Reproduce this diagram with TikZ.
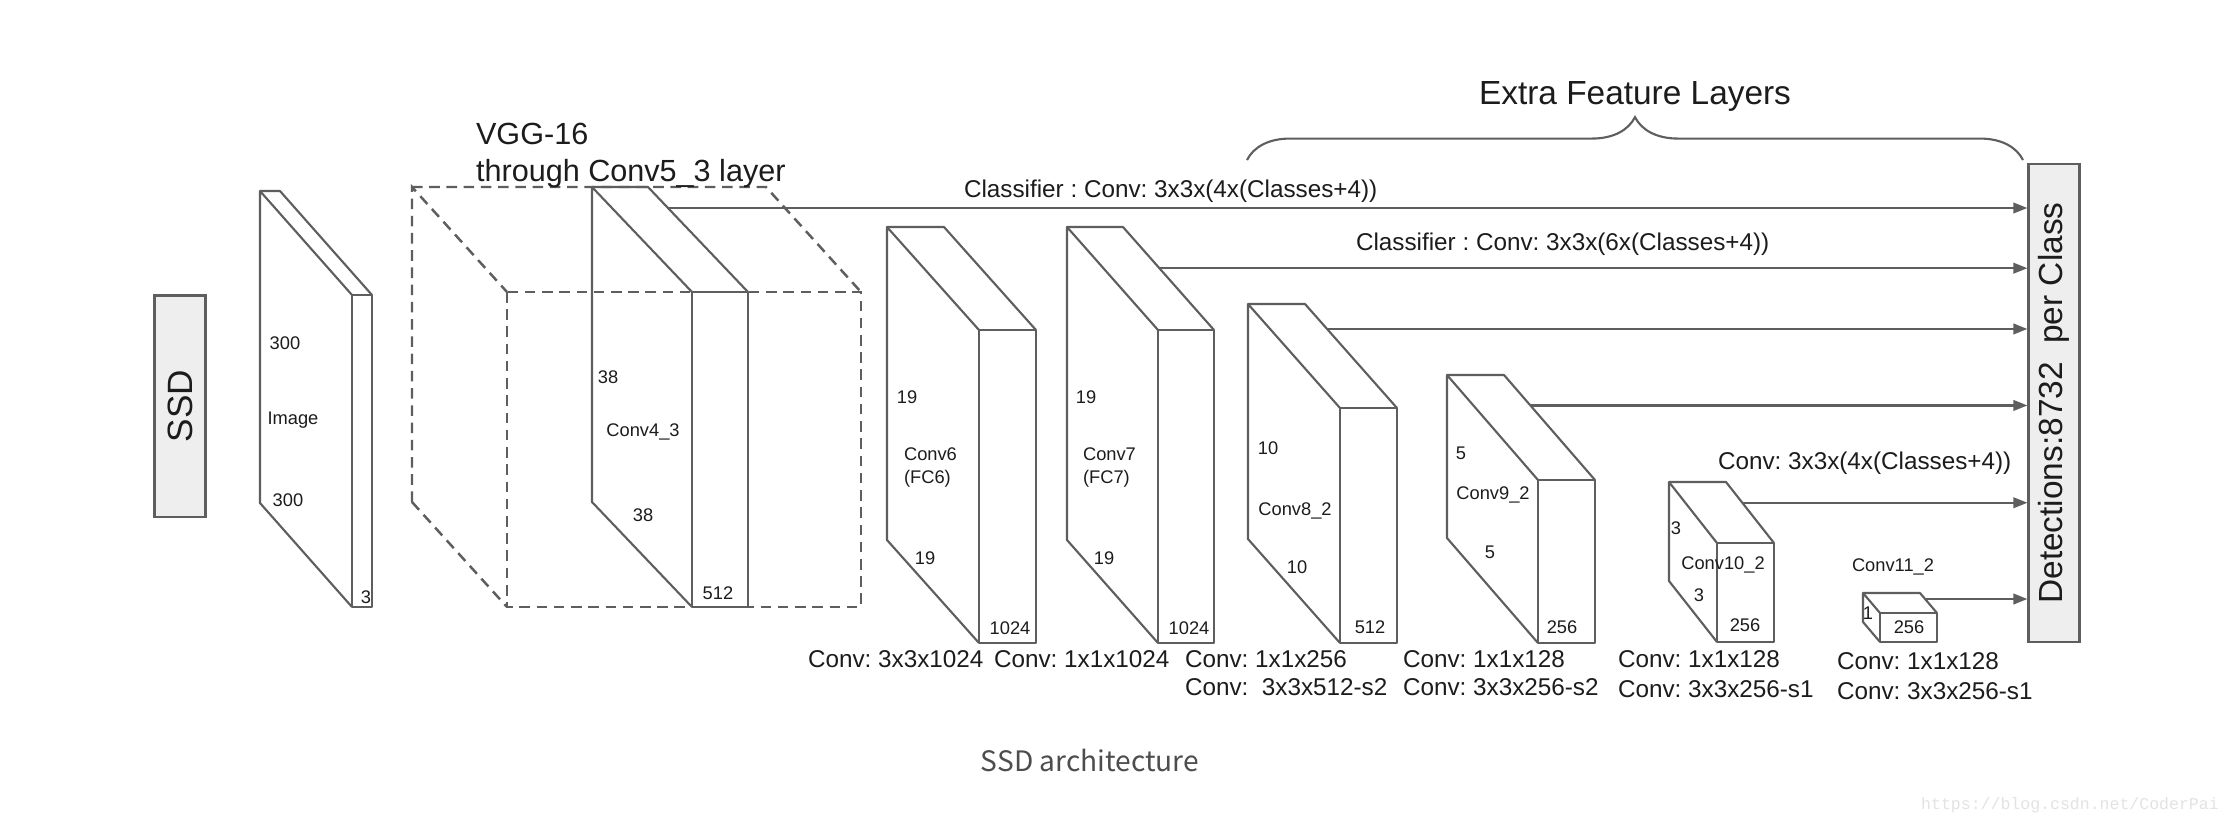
\documentclass[tikz,border=0pt]{standalone}
\usepackage{fontspec}
\setmainfont{Liberation Sans}
\newfontfamily\captionfont{Noto Sans CJK SC}
\newfontfamily\markfont{Liberation Mono}
\usetikzlibrary{arrows.meta}
\usetikzlibrary{calc}
\usetikzlibrary{decorations.pathreplacing}
\definecolor{edge}{HTML}{5E5E5E}
\definecolor{boxfill}{HTML}{EEEEEE}
\definecolor{ink}{HTML}{1C1C1C}
\definecolor{capgray}{HTML}{4D4D4D}
\frenchspacing

% feature map: name, front top-left, width, height, depth x, depth y
\newcommand{\fmap}[6]{%
  \coordinate (#1) at #2;
  \draw [slab] (#1) rectangle ++(#3,#4);
  \draw [slab] (#1) -- ++(-#5,-#6) -- ++(0,#4) -- ++(#5,#6);
  \draw [slab] (#1) ++(-#5,-#6) -- ++(#3,0) coordinate (#1-b) -- ++(#5,#6) coordinate (#1-f);
}

\begin{document}
\begin{tikzpicture}[x=0.01cm,y=-0.01cm,line width=0.6pt,
	slab/.style={draw=edge,line join=round},
	cube/.style={draw=edge,line width=0.7pt,dash pattern=on 3pt off 1.9pt},
	arr/.style={draw=edge,-{Triangle[length=4pt,width=3pt]}},
	sidebox/.style={draw=edge,fill=boxfill,rotate=90,minimum height=0.51cm,inner sep=0pt,text=ink},
	dimlbl/.style={inner sep=0pt,text height=3.75pt,text depth=0pt,text=ink,font=\fontsize{5.2}{6}\selectfont},
	oplbl/.style={inner sep=0pt,text height=4.95pt,text depth=0pt,text=ink,font=\fontsize{6.9}{8}\selectfont},
	titlelbl/.style={inner sep=0pt,text height=6.8pt,text depth=0pt,text=ink,font=\fontsize{9.5}{11}\selectfont}]
	\path [fill=white] (0,0) rectangle (2232,826);

	\node [sidebox,minimum width=2.21cm,font=\fontsize{10}{12}\selectfont] (ssd) at (180,406) {SSD};
	% rotated box: its north anchor is the left side
	\node [sidebox,minimum width=4.78cm,font=\fontsize{9.5}{11}\selectfont] (det) at (2054,403) {Detections:8732\ \ per Class};

	% VGG-16 block
	\draw [cube] (412,187) -- (766,187) -- (861,292);
	\draw [cube] (412,502) -- (412,187) -- (507,292);
	\draw [cube] (412,502) -- (507,607);
	\draw [cube] (507,292) rectangle (861,607);
	\node [titlelbl,anchor=west,font=\fontsize{8.7}{10}\selectfont] (vgg) at (475,133) {VGG-16};
	\node [titlelbl,anchor=west,font=\fontsize{8.7}{10}\selectfont] (vgg2) at (475,170) {through Conv5\_3 layer};

	\fmap{img}{(352,295)}{20}{312}{92}{104}
	\fmap{c43}{(692,292)}{56}{315}{100}{105}
	\fmap{c6}{(979,330)}{57}{313}{92}{103}
	\fmap{c7}{(1158,330)}{56}{313}{91}{103}
	\fmap{c8}{(1340,408)}{57}{235}{92}{104}
	\fmap{c9}{(1538,480)}{57}{163}{91}{105}
	\fmap{c10}{(1717,543)}{57}{99}{48}{61}
	\fmap{c11}{(1880,613)}{57}{29}{17}{20}

	\node [dimlbl] (img-h) at (285,343) {300};
	\node [dimlbl] (img-n) at (293,418) {Image};
	\node [dimlbl] (img-w) at (288,500) {300};
	\node [dimlbl] (img-d) at (366,597) {3};
	\node [dimlbl] (c43-h) at (608,377) {38};
	\node [dimlbl] (c43-n) at (643,430) {Conv4\_3};
	\node [dimlbl] (c43-w) at (643,515) {38};
	\node [dimlbl] (c43-d) at (718,593) {512};
	\node [dimlbl] (c6-h) at (907,397) {19};
	\node [dimlbl,anchor=west] (c6-n) at (903,454) {Conv6};
	\node [dimlbl,anchor=west] (c6-n2) at (903,477) {(FC6)};
	\node [dimlbl] (c6-w) at (925,558) {19};
	\node [dimlbl] (c6-d) at (1010,628) {1024};
	\node [dimlbl] (c7-h) at (1086,397) {19};
	\node [dimlbl,anchor=west] (c7-n) at (1082,454) {Conv7};
	\node [dimlbl,anchor=west] (c7-n2) at (1082,477) {(FC7)};
	\node [dimlbl] (c7-w) at (1104,558) {19};
	\node [dimlbl] (c7-d) at (1189,628) {1024};
	\node [dimlbl] (c8-h) at (1268,448) {10};
	\node [dimlbl] (c8-n) at (1295,509) {Conv8\_2};
	\node [dimlbl] (c8-w) at (1297,567) {10};
	\node [dimlbl] (c8-d) at (1370,627) {512};
	\node [dimlbl] (c9-h) at (1461,453) {5};
	\node [dimlbl] (c9-n) at (1493,493) {Conv9\_2};
	\node [dimlbl] (c9-w) at (1490,552) {5};
	\node [dimlbl] (c9-d) at (1562,627) {256};
	\node [dimlbl] (c10-h) at (1676,528) {3};
	\node [dimlbl] (c10-n) at (1723,563) {Conv10\_2};
	\node [dimlbl] (c10-w) at (1699,595) {3};
	\node [dimlbl] (c10-d) at (1745,625) {256};
	\node [dimlbl] (c11-h) at (1868,613) {1};
	\node [dimlbl] (c11-d) at (1909,627) {256};
	\node [dimlbl] (c11-n) at (1893,565) {Conv11\_2};

	% classifiers into the detection box
	\coordinate (a1) at ($(c43-b)!0.2!(c43-f)$);
	\coordinate (a2) at ($(c7-b)!0.4!(c7-f)$);
	\coordinate (a3) at ($(c8-b)!0.24!(c8-f)$);
	\coordinate (a4) at ($(c9-b)!0.29!(c9-f)$);
	\coordinate (a5) at ($(c10-b)!0.34!(c10-f)$);
	\coordinate (a6) at ($(c11-b)!0.3!(c11-f)$);
	\foreach \a in {a1,a2,a3,a4,a5,a6}
		\draw [arr] (\a) -- (\a -| det.north);
	\node [oplbl,anchor=west] (cls1) at (963,189) {Classifier : Conv: 3x3x(4x(Classes+4))};
	\node [oplbl,anchor=west] (cls2) at (1355,242) {Classifier : Conv: 3x3x(6x(Classes+4))};
	\node [oplbl,anchor=west] (cls5) at (1717,461) {Conv: 3x3x(4x(Classes+4))};

	\draw [draw=edge,decorate,decoration={brace,amplitude=12.2pt}] (1247,160) -- (2023,160);
	\node [titlelbl] (extra) at (1635,93) {Extra Feature Layers};

	\node [oplbl,anchor=west] (op6) at (807,659) {Conv: 3x3x1024};
	\node [oplbl,anchor=west] (op7) at (993,659) {Conv: 1x1x1024};
	\node [oplbl,anchor=west] (op8) at (1184,659) {Conv: 1x1x256};
	\node [oplbl,anchor=west] (op8b) at (1184,687) {Conv:\ \ 3x3x512-s2};
	\node [oplbl,anchor=west] (op9) at (1402,659) {Conv: 1x1x128};
	\node [oplbl,anchor=west] (op9b) at (1402,687) {Conv: 3x3x256-s2};
	\node [oplbl,anchor=west] (op10) at (1617,659) {Conv: 1x1x128};
	\node [oplbl,anchor=west] (op10b) at (1617,689) {Conv: 3x3x256-s1};
	\node [oplbl,anchor=west] (op11) at (1836,661) {Conv: 1x1x128};
	\node [oplbl,anchor=west] (op11b) at (1836,691) {Conv: 3x3x256-s1};

	\node [text=capgray,font=\captionfont\fontsize{8}{10}\selectfont] (caption) at (1090,760) {SSD architecture};
	\node [text=gray!22,font=\markfont\fontsize{4.7}{6}\selectfont] (mark) at (2070,805) {https://blog.csdn.net/CoderPai};
\end{tikzpicture}
\end{document}
